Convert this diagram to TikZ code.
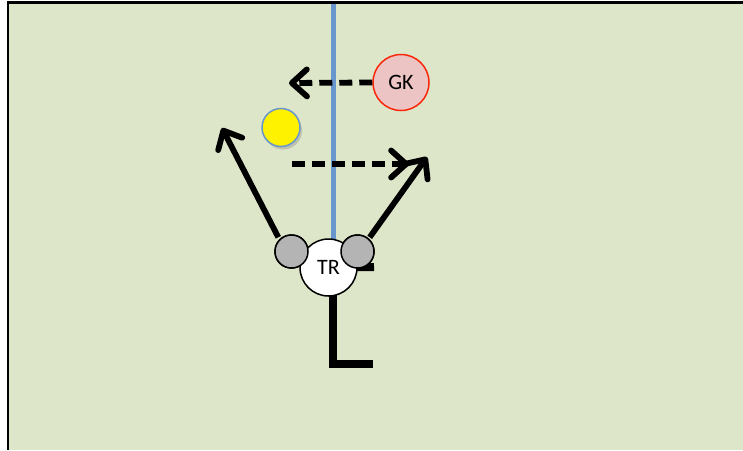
\documentclass[tikz,border=0pt]{standalone}
\usepackage{fontspec}
\setmainfont{Carlito}
\usetikzlibrary{arrows.meta,shadows}
\definecolor{pitch}{RGB}{222,230,201}
\definecolor{lineblue}{RGB}{104,150,205}
\definecolor{gkfill}{RGB}{236,196,196}
\definecolor{gkline}{RGB}{250,40,10}
\definecolor{playergrey}{RGB}{180,180,180}
\tikzset{
  move/.style={line width=5.8pt,-{Straight Barb[length=15pt,width=27pt,line width=5.8pt,round]}},
  pass/.style={move,dash pattern=on 13pt off 7pt},
  body/.style={circle,line width=1.5pt,inner sep=0pt,font=\fontsize{22}{22}\selectfont},
  hand/.style={circle,draw=black,line width=1.5pt,fill=playergrey,minimum size=33pt,inner sep=0pt},
  stick/.style={line width=8pt}
}
\begin{document}
\begin{tikzpicture}[x=1pt,y=-1pt]
\useasboundingbox (0,0) rectangle (743,450);
% pitch area with its top and left boundary
\fill[pitch] (8,2.5) rectangle (743,450);
\draw[line width=2.4pt] (8,450) -- (8,2.5) -- (743,2.5);
% centre line
\draw[lineblue,line width=5.5pt] (333.5,3.5) -- (333.5,262);
% player positions
\node[body,draw=gkline,fill=gkfill,minimum size=56pt] (gk) at (401,82.5) {GK};
\node[circle,draw=lineblue,line width=1.5pt,fill=yellow,minimum size=38pt,inner sep=0pt,
      drop shadow={shadow xshift=2pt,shadow yshift=-3pt,opacity=0.35}] (ball) at (281,127.5) {};
\coordinate (tr c) at (328.5,267.5);
% hockey sticks behind the player
\coordinate (stick a) at (374,267);
\coordinate (stick b) at (333,363.5);
\coordinate (stick c) at (373,363.5);
\draw[stick] (tr c) -- (stick a);
\draw[stick] (333,267) -- (stick b) -- (stick c);
\node[hand] (lh) at (291.5,251.5) {};
\node[hand] (rh) at (357.5,251.5) {};
% runs and passes
\coordinate (gk tip) at (289,83);
\coordinate (pass start) at (292,164);
\coordinate (pass tip) at (409,164);
\coordinate (left tip) at (222,128);
\coordinate (right tip) at (427,157);
\draw[pass] (gk.west) -- (gk tip);
\draw[pass] (pass start) -- (pass tip);
\draw[move] (lh.north west) ++(-1,-2) -- (left tip);
\draw[move] (rh.north east) ++(0,-2) -- (right tip);
\node[body,draw=black,fill=white,minimum size=57pt] (tr) at (tr c) {TR};
\node[hand] at (lh) {};
\node[hand] at (rh) {};
\end{tikzpicture}
\end{document}
